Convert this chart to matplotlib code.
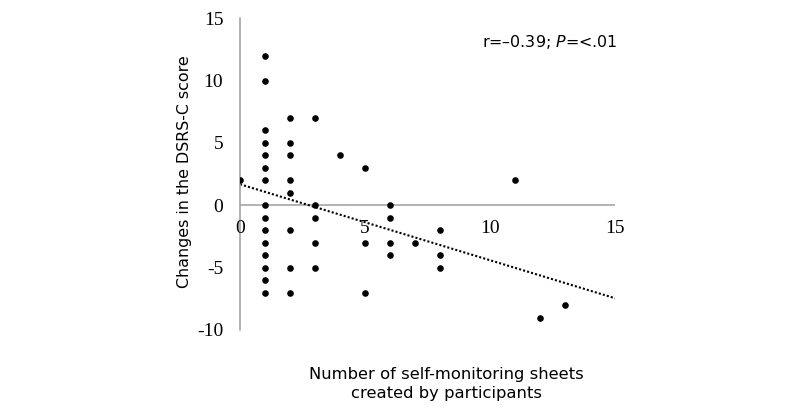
import numpy as np
import matplotlib
matplotlib.use('Agg')
import matplotlib.pyplot as plt

# number of self-monitoring sheets per participant and DSRS-C change
sheets = [0,
          1, 1, 1, 1, 1, 1, 1, 1, 1, 1, 1, 1, 1, 1, 1,
          2, 2, 2, 2, 2, 2, 2, 2,
          3, 3, 3, 3, 3,
          4,
          5, 5, 5,
          6, 6, 6, 6,
          7,
          8, 8, 8,
          11, 12, 13]
changes = [2,
           12, 10, 6, 5, 4, 3, 2, 0, -1, -2, -3, -4, -5, -6, -7,
           7, 5, 4, 2, 1, -2, -5, -7,
           7, 0, -1, -3, -5,
           4,
           3, -3, -7,
           0, -1, -3, -4,
           -3,
           -2, -4, -5,
           2, -9, -8]
x_ticks = [0, 5, 10, 15]
y_ticks = [-10, -5, 0, 5, 10, 15]

fig = plt.figure(figsize=(8, 4.13), dpi=100)
ax = fig.add_axes([0.3, 0.201, 0.469, 0.755])
ax.set_xlim(0, 15)
ax.set_ylim(-10, 15)

for s in ['top', 'right', 'bottom']:
    ax.spines[s].set_visible(False)
ax.spines['left'].set_color('#a6a6a6')
ax.spines['left'].set_linewidth(1.2)
ax.axhline(0, color='#a6a6a6', lw=1.2, zorder=1)

# linear trend line
k, b = np.polyfit(sheets, changes, 1)
xs = np.array([0, 15])
ax.plot(xs, k * xs + b, color='black', ls=(0, (1, 1)), lw=1.5, zorder=2)

ax.scatter(sheets, changes, s=14, color='black', zorder=3)

ax.set_xticks([])
ax.set_yticks(y_ticks)
ax.set_yticklabels([str(v) for v in y_ticks], family='Liberation Serif', fontsize=14)
ax.tick_params(axis='y', length=0, pad=12)
for v in x_ticks:
    ax.text(v, -1.85, str(v), ha='center', va='center', family='Liberation Serif', fontsize=14)

fig.text(0.231, 0.584, 'Changes in the DSRS-C score', rotation=90, ha='center', va='center', fontsize=11.4)
fig.text(0.558, 0.070, 'Number of self-monitoring sheets\ncreated by participants', ha='center', va='center',
         fontsize=11.75, linespacing=1.3)
ax.text(1.005, 0.923, r'r=–0.39; $\it{P}$=<.01', transform=ax.transAxes, ha='right', va='center', fontsize=11.4)

plt.savefig('out.png', dpi=100)
